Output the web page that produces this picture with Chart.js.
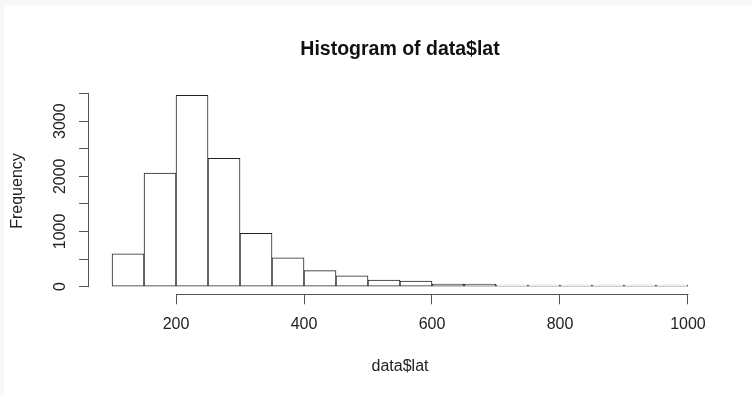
<!DOCTYPE html>
<html>
<head>
<meta charset="utf-8">
<script src="https://cdn.jsdelivr.net/npm/chart.js@4/dist/chart.umd.min.js"></script>
<style>
  html, body { margin: 0; padding: 0; background: #f7f7f7; overflow: hidden; }
  #wrap { position: absolute; left: 4px; top: 5px; width: 748px; height: 390px; background: #fff; }
</style>
</head>
<body>
<div id="wrap"><canvas id="hist" width="748" height="390"></canvas></div>
<script>
// histogram bins (left edges, width 50) and counts
var binStart = [100, 150, 200, 250, 300, 350, 400, 450, 500, 550, 600, 650, 700, 750, 800, 850, 900, 950];
var binWidth = 50;
var counts   = [595, 2060, 3467, 2327, 965, 520, 290, 195, 120, 100, 48, 45, 27, 25, 25, 3, 3, 3];
var xTicks = [200, 400, 600, 800, 1000];
var yTicks = [0, 500, 1000, 1500, 2000, 2500, 3000, 3500];
var yLabels = [0, 1000, 2000, 3000];

var lineCol = '#555';

// R style axes: line only between first and last tick
var rAxes = {
  id: 'rAxes',
  afterLayout: function(chart) {
    // centre the main title over the plot region like R does
    chart.titleBlock.left = chart.chartArea.left;
    chart.titleBlock.right = chart.chartArea.right;
  },
  afterDraw: function(chart) {
    var ctx = chart.ctx, x = chart.scales.x, y = chart.scales.y;
    ctx.save();
    ctx.strokeStyle = lineCol;
    ctx.lineWidth = 1;
    ctx.beginPath();
    var yb = Math.round(x.top) + 0.5;
    ctx.moveTo(x.getPixelForValue(xTicks[0]), yb);
    ctx.lineTo(x.getPixelForValue(xTicks[xTicks.length - 1]) + 0.5, yb);
    var xl = Math.round(y.right) - 0.5;
    ctx.moveTo(xl, y.getPixelForValue(yTicks[0]) + 0.5);
    ctx.lineTo(xl, y.getPixelForValue(yTicks[yTicks.length - 1]));
    ctx.stroke();
    ctx.restore();
  }
};

Chart.defaults.font.family = '"Liberation Sans", Arial, sans-serif';
Chart.defaults.color = '#222';

var ctx = document.getElementById('hist').getContext('2d');
var chart = new Chart(ctx, {
  type: 'bar',
  data: {
    datasets: [{
      label: 'data$lat',
      data: binStart.map(function(b, i) { return { x: b + binWidth / 2, y: counts[i] }; }),
      backgroundColor: '#fff',
      borderColor: '#222',
      borderWidth: 1,
      borderSkipped: false,
      barPercentage: 1,
      categoryPercentage: 1,
      minBarLength: 1.5
    }]
  },
  options: {
    responsive: false,
    animation: false,
    layout: { padding: { left: 0, right: 41, top: 0, bottom: 0 } },
    plugins: {
      legend: { display: false },
      tooltip: { enabled: false },
      title: {
        display: true,
        text: 'Histogram of data$lat',
        font: { size: 19.5, weight: 'bold' },
        color: '#111',
        padding: { top: 32.8, bottom: 26.5 }
      }
    },
    scales: {
      x: {
        type: 'linear',
        min: 64,
        max: 1036,
        offset: false,
        afterBuildTicks: function(axis) { axis.ticks = xTicks.map(function(v) { return { value: v }; }); },
        afterFit: function(axis) { axis.height = 100.7; },
        border: { display: false },
        grid: { offset: false, drawOnChartArea: false, drawTicks: true, tickLength: 10, color: lineCol },
        ticks: {
          font: { size: 16 },
          padding: 11,
          maxRotation: 0,
          autoSkip: false,
          callback: function(v) { return String(v); }
        },
        title: { display: true, text: 'data$lat', font: { size: 16 }, padding: { top: 0, bottom: 18.7 } }
      },
      y: {
        min: -139,
        max: 3606,
        afterBuildTicks: function(axis) { axis.ticks = yTicks.map(function(v) { return { value: v }; }); },
        afterFit: function(axis) { axis.width = 85; },
        border: { display: false },
        grid: { drawOnChartArea: false, drawTicks: true, tickLength: 10, color: lineCol },
        ticks: {
          font: { size: 16 },
          padding: 1,
          minRotation: 90,
          maxRotation: 90,
          crossAlign: 'center',
          autoSkip: false,
          callback: function(v) { return yLabels.indexOf(v) >= 0 ? String(v) : ''; }
        },
        title: { display: true, text: 'Frequency', font: { size: 16 }, padding: { top: 3.7, bottom: 0 } }
      }
    }
  },
  plugins: [rAxes]
});
</script>
</body>
</html>
